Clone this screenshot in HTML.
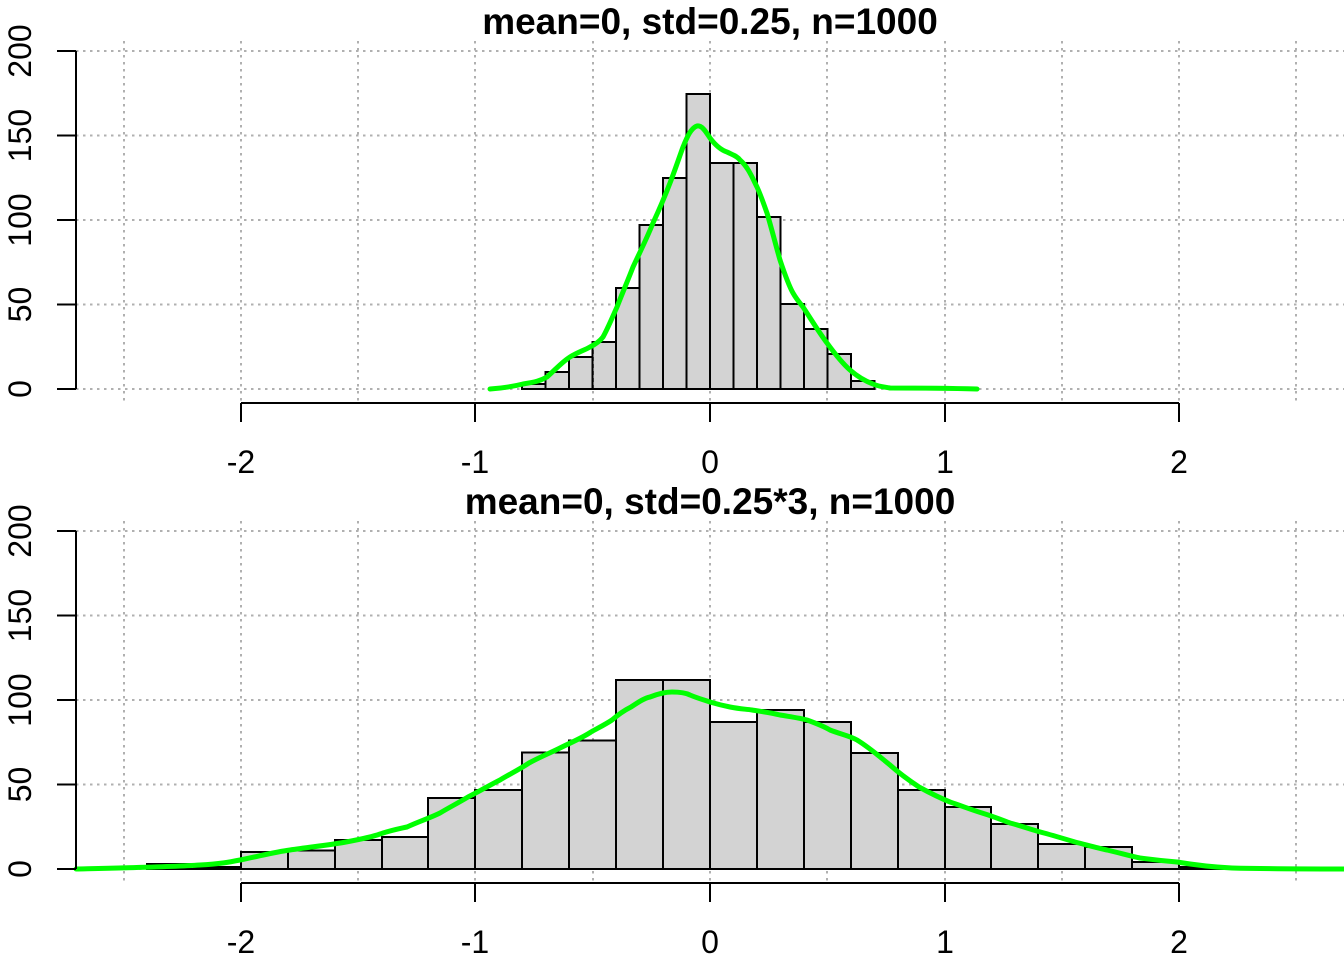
<!DOCTYPE html>
<html><head><meta charset="utf-8"><style>html,body{margin:0;padding:0;background:#fff}svg{display:block}</style></head>
<body>
<svg width="1344" height="960" viewBox="0 0 1344 960" xmlns="http://www.w3.org/2000/svg" font-family="Liberation Sans, Arial, sans-serif">
<defs>
<g id="grid" stroke="#b0b0b0" stroke-width="2" stroke-dasharray="2.5,4.5" fill="none">
 <path d="M124,41V403M241,41V403M358,41V403M475,41V403M593,41V403M710,41V403M827,41V403M945,41V403M1062,41V403M1179,41V403M1296,41V403"/>
 <path d="M76,51H1344M76,135.5H1344M76,220H1344M76,304.5H1344M76,389H1344"/>
</g>
<g id="axes">
 <g stroke="#000" stroke-width="2" fill="none">
  <path d="M76,51V389M57,51H76M57,135.5H76M57,220H76M57,304.5H76M57,389H76"/>
  <path d="M241,403H1179M241,403V422M475,403V422M710,403V422M945,403V422M1179,403V422"/>
 </g>
 <g font-size="32" fill="#000" text-anchor="middle">
  <text x="241" y="473">-2</text><text x="475" y="473">-1</text><text x="710" y="473">0</text><text x="945" y="473">1</text><text x="1179" y="473">2</text>
  <text transform="translate(31,389) rotate(-90)">0</text>
  <text transform="translate(31,304.5) rotate(-90)">50</text>
  <text transform="translate(31,220) rotate(-90)">100</text>
  <text transform="translate(31,135.5) rotate(-90)">150</text>
  <text transform="translate(31,51) rotate(-90)">200</text>
 </g>
</g>
</defs>

<use href="#grid"/>
<g fill="#d3d3d3" stroke="#000" stroke-width="2">
 <rect x="522" y="384" width="23.5" height="5"/>
 <rect x="545.5" y="372" width="23.5" height="17"/>
 <rect x="569" y="357" width="23.5" height="32"/>
 <rect x="592.5" y="342" width="23.5" height="47"/>
 <rect x="616" y="288" width="23.5" height="101"/>
 <rect x="639.5" y="225" width="23.5" height="164"/>
 <rect x="663" y="178" width="23.5" height="211"/>
 <rect x="686.5" y="94" width="23.5" height="295"/>
 <rect x="710" y="163" width="23.5" height="226"/>
 <rect x="733.5" y="163" width="23.5" height="226"/>
 <rect x="757" y="217" width="23.5" height="172"/>
 <rect x="780.5" y="304" width="23.5" height="85"/>
 <rect x="804" y="329" width="23.5" height="60"/>
 <rect x="827.5" y="354" width="23.5" height="35"/>
 <rect x="851" y="381" width="23.5" height="8"/>
</g>
<g stroke="#000" stroke-width="1.5" stroke-dasharray="4,3" fill="none"><path d="M522,389H875M593,389V342M710,389V94"/></g>
<path fill="none" stroke="#00ff00" stroke-width="5" stroke-linejoin="round" stroke-linecap="round" d="M490,389 C505,388 515,386 523,384 C535,382 540,381 547,377 C555,370 562,362 570,357 C578,352 585,350 590,347 C596,344 600,341 603,337 C608,328 612,318 617,307 C622,294 628,280 633,267 C640,252 647,238 653,223 C659,210 665,196 670,183 C675,170 679,158 683,147 C687,137 691,128 697,126 C702,125 706,132 710,138 C716,146 721,150 727,152 C733,155 737,156 740,160 C748,167 752,177 757,187 C762,198 764,205 767,213 C772,230 776,246 780,260 C785,275 789,286 793,293 C797,300 800,303 803,307 C811,319 818,331 827,343 C835,354 842,363 850,370 C858,377 865,381 873,384 C880,387 885,387 890,388 C910,388 940,388 977,389"/>
<use href="#axes"/>
<text x="710" y="34" font-size="37" font-weight="bold" text-anchor="middle">mean=0, std=0.25, n=1000</text>

<g transform="translate(0,480)">
<use href="#grid"/>
<g fill="#d3d3d3" stroke="#000" stroke-width="2">
 <rect x="147" y="384" width="47" height="5"/>
 <rect x="194" y="387" width="47" height="2"/>
 <rect x="241" y="372" width="47" height="17"/>
 <rect x="288" y="370.5" width="47" height="18.5"/>
 <rect x="335" y="360" width="47" height="29"/>
 <rect x="382" y="357" width="46" height="32"/>
 <rect x="428" y="318" width="47" height="71"/>
 <rect x="475" y="310" width="47" height="79"/>
 <rect x="522" y="272.5" width="47" height="116.5"/>
 <rect x="569" y="260.5" width="47" height="128.5"/>
 <rect x="616" y="200" width="47" height="189"/>
 <rect x="663" y="200" width="47" height="189"/>
 <rect x="710" y="242" width="47" height="147"/>
 <rect x="757" y="230" width="47" height="159"/>
 <rect x="804" y="242" width="47" height="147"/>
 <rect x="851" y="273" width="47" height="116"/>
 <rect x="898" y="310" width="47" height="79"/>
 <rect x="945" y="327" width="46" height="62"/>
 <rect x="991" y="344" width="47" height="45"/>
 <rect x="1038" y="364" width="47" height="25"/>
 <rect x="1085" y="367" width="47" height="22"/>
 <rect x="1132" y="382" width="47" height="7"/>
 <rect x="1179" y="387" width="47" height="2"/>
</g>
<g stroke="#000" stroke-width="1.5" stroke-dasharray="4,3" fill="none"><path d="M147,389H1226M241,389V372M475,389V310M710,389V200M945,389V327M1179,389V382"/></g>
<path fill="none" stroke="#00ff00" stroke-width="5" stroke-linejoin="round" stroke-linecap="round" d="M76,389 C120,388 170,387 200,385 C220,384 230,382 240,380 C260,376 275,372 290,370 C310,367 330,365 346,362 C362,359 372,357 380,354 C392,350 398,349 407,347 C420,341 430,338 440,333 C450,327 458,323 468,317 C480,311 490,305 500,300 C510,294 520,289 529,283 C540,277 550,273 560,268 C572,262 582,258 591,252 C600,247 606,244 612,240 C620,233 625,230 631,227 C640,221 645,218 650,217 C660,213 666,212 672,212 C680,212 686,213 690,215 C697,218 704,220 710,222 C720,225 725,226 730,227 C740,229 745,229 752,230 C765,232 772,233 780,235 C792,237 800,238 807,240 C818,244 825,247 830,250 C840,254 850,256 857,260 C870,268 880,277 890,285 C900,294 910,301 919,307 C930,313 940,318 950,322 C962,326 972,330 982,333 C995,337 1002,340 1010,343 C1022,346 1032,350 1044,353 C1055,356 1065,359 1075,362 C1087,365 1097,368 1107,370 C1120,373 1130,376 1140,378 C1155,380 1165,381 1177,382 C1195,385 1210,387 1232,388 C1270,389 1310,389 1344,389"/>
<use href="#axes"/>
<text x="710" y="34" font-size="37" font-weight="bold" text-anchor="middle">mean=0, std=0.25*3, n=1000</text>
</g>
</svg>
</body></html>
